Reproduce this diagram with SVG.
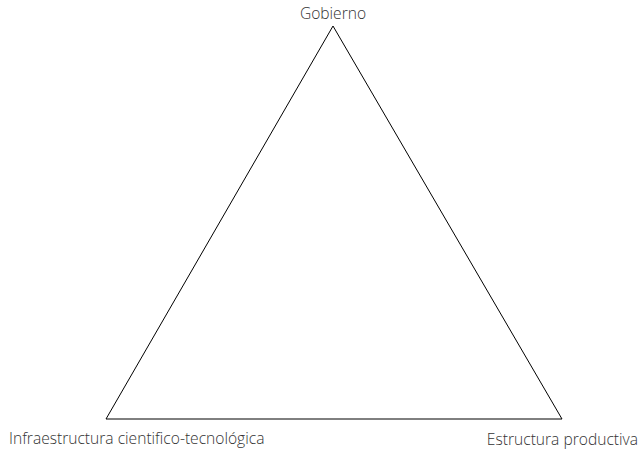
<svg xmlns="http://www.w3.org/2000/svg" width="642" height="452" viewBox="0 0 642 452">
<style>
text{font-family:"Open Sans","Noto Sans",sans-serif;font-size:15.6px;font-weight:300;fill:#333}
.edge{stroke:#000;stroke-width:1;fill:none}
</style>
<rect width="642" height="452" fill="#fff"/>
<g id="connectors">
<line class="edge" x1="333" y1="26" x2="106" y2="419"/>
<line class="edge" x1="333" y1="26" x2="562" y2="419"/>
<line class="edge" x1="106" y1="419" x2="562" y2="419"/>
</g>
<g id="gobierno"><text x="333" y="19" text-anchor="middle">Gobierno</text></g>
<g id="infraestructura"><text x="9" y="444">Infraestructura cientifico-tecnológica</text></g>
<g id="estructura"><text x="638" y="445" text-anchor="end">Estructura productiva</text></g>
</svg>
